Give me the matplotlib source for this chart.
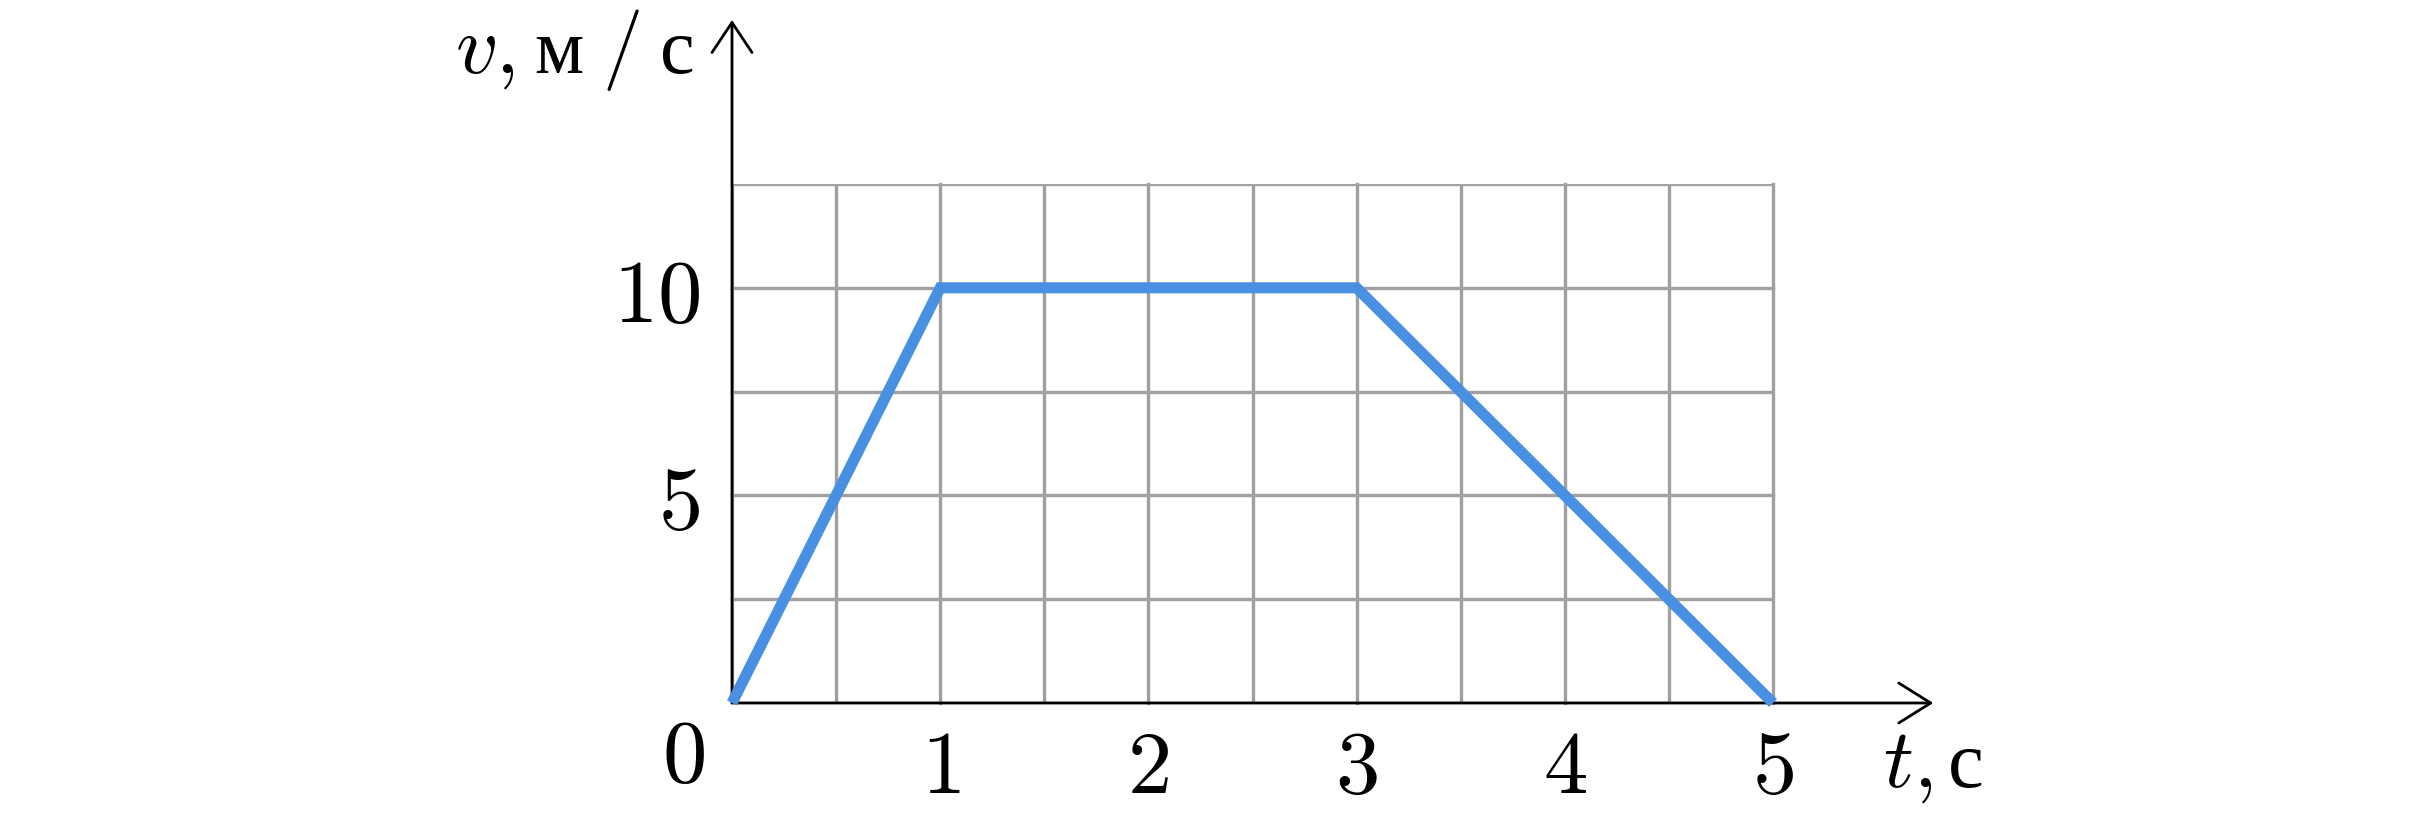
import matplotlib
matplotlib.use('Agg')
import matplotlib.pyplot as plt
import numpy as np

plt.rcParams['mathtext.fontset'] = 'cm'

# data: speed vs time
t = [0, 1, 3, 5]
v = [0, 10, 10, 0]
xticks = [1, 2, 3, 4, 5]
yticks = [5, 10]

W, H = 2418, 816
fig = plt.figure(figsize=(W / 100, H / 100), dpi=100)

def fx(px):
    return px / W

def fy(py):
    return 1 - py / H

# axes box in pixels: x 732..1773, y 184..703
ax = fig.add_axes([fx(732), fy(703), fx(1773) - fx(732), fy(184) - fy(703)])
ax.set_xlim(0, 5)
ax.set_ylim(0, 12.5)

ax.set_xticks(xticks)
ax.set_xticklabels(['$%d$' % x for x in xticks])
ax.set_yticks(yticks)
ax.set_yticklabels(['$%d$' % y for y in yticks])
ax.set_xticks(np.arange(0, 5.01, 0.5), minor=True)
ax.set_yticks(np.arange(0, 12.51, 2.5), minor=True)
ax.tick_params(which='both', length=0, labelsize=64)
ax.tick_params(axis='x', pad=16)
ax.tick_params(axis='y', pad=23)

ax.grid(which='both', color='#a0a0a0', lw=2.4)
for ln in ax.get_xgridlines() + ax.get_ygridlines():
    ln.set_clip_on(False)
for s in ax.spines.values():
    s.set_visible(False)

ax.plot(t, v, color='#4a90e2', lw=8, solid_capstyle='butt',
        solid_joinstyle='miter', clip_on=False, zorder=4)

# axes with arrows
ax.annotate('', xy=(0, 16.45), xytext=(0, 0), annotation_clip=False,
            arrowprops=dict(arrowstyle='->,head_length=1.08,head_width=0.72',
                            lw=2, color='black', shrinkA=0, shrinkB=0,
                            mutation_scale=20))
ax.annotate('', xy=(5.77, 0), xytext=(0, 0), annotation_clip=False,
            arrowprops=dict(arrowstyle='->,head_length=1.15,head_width=0.72',
                            lw=2, color='black', shrinkA=0, shrinkB=0,
                            mutation_scale=20))

fig.text(fx(683), fy(757), '$0$', fontsize=64, ha='center', va='center')

# axis labels
serif = 'Liberation Serif'
fig.text(fx(455), fy(73), '$v,$', fontsize=60, ha='left', va='baseline')
fig.text(fx(559), fy(73), 'м', fontsize=56, family=serif,
         ha='center', va='baseline')
fig.text(fx(621), fy(50), '$/$', fontsize=58, ha='center', va='center')
fig.text(fx(677), fy(73), 'с', fontsize=56, family=serif,
         ha='center', va='baseline')
fig.text(fx(1883), fy(787), '$t,$', fontsize=60, ha='left', va='baseline')
fig.text(fx(1966), fy(787), 'с', fontsize=58, family=serif,
         ha='center', va='baseline')

fig.savefig('out.png', dpi=100)
